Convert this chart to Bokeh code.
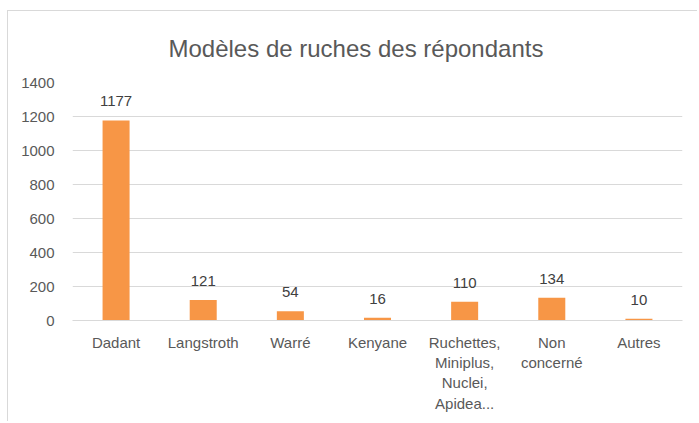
from bokeh.plotting import figure
from bokeh.models import ColumnDataSource, Range1d, FactorRange, SingleIntervalTicker
from bokeh.embed import file_html
from bokeh.resources import INLINE
from bokeh.core.properties import value

categories = ["Dadant", "Langstroth", "Warré", "Kenyane",
              "Ruchettes,\nMiniplus,\nNuclei,\nApidea...", "Non\nconcerné", "Autres"]
counts = [1177, 121, 54, 16, 110, 134, 10]
title_text = "Modèles de ruches des répondants"

FONT = "Liberation Sans"
src = ColumnDataSource(dict(cat=categories, val=counts, lab=[str(v) for v in counts]))

p = figure(width=690, height=411, x_range=FactorRange(*categories, range_padding=0),
           y_range=Range1d(0, 1400), output_backend="svg", toolbar_location=None,
           min_border_left=64, min_border_right=16, min_border_top=71, min_border_bottom=102)
p.styles = {"margin-left": "7px", "margin-top": "10px",
            "border-left": "1px solid #d9d9d9", "border-top": "1px solid #d9d9d9"}

p.title.text = title_text
p.title.align = "left"
p.title.text_font = FONT
p.title.text_font_size = "24px"
p.title.text_font_style = "normal"
p.title.text_color = "#595959"
p.title.standoff = 41
p.title.offset = 96

p.vbar(x="cat", top="val", width=0.31, source=src, color="#F79646", line_color=None)
p.text(x="cat", y="val", text="lab", source=src, text_align="center", text_baseline="middle",
       y_offset=-19, text_font=value(FONT), text_font_size="15px", text_color="#404040")

p.outline_line_color = None
p.xgrid.grid_line_color = None
p.ygrid.grid_line_color = "#d9d9d9"
p.ygrid.grid_line_width = 1
p.yaxis.ticker = SingleIntervalTicker(interval=200)
p.yaxis.axis_line_color = None
p.yaxis.major_tick_line_color = None
p.yaxis.minor_tick_line_color = None
p.yaxis.major_label_standoff = 12
p.xaxis.axis_line_color = "#d9d9d9"
p.xaxis.major_tick_line_color = None
p.xaxis.minor_tick_line_color = None
p.xaxis.major_label_standoff = 7
for ax in (p.xaxis, p.yaxis):
    ax.major_label_text_font = FONT
    ax.major_label_text_font_size = "15px"
    ax.major_label_text_color = "#595959"
p.xaxis.major_label_text_line_height = 1.2

open("out.html", "w").write(file_html(p, INLINE))
